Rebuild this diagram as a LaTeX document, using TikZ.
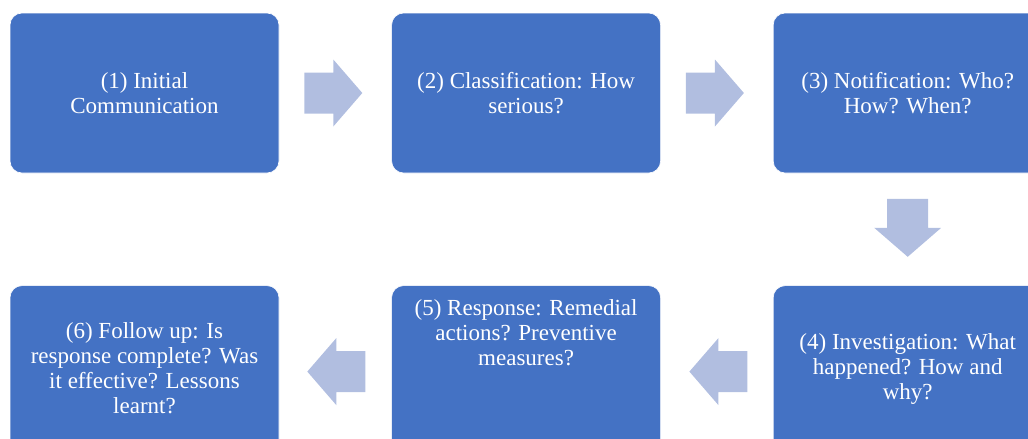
\documentclass[tikz,border=0pt]{standalone}
\usepackage{fontspec}
\setmainfont{Liberation Serif}
\usetikzlibrary{positioning,calc}

\definecolor{boxblue}{HTML}{4472C4}
\definecolor{arrowblue}{HTML}{B1BEE0}

\tikzset{
  stage/.style={rectangle,rounded corners=12pt,fill=boxblue,draw=white,
    line width=0.6pt,minimum width=269pt,minimum height=160pt,
    text=white,align=center,inner sep=0pt,
    font=\fontsize{23}{25}\selectfont},
  lowstage/.style={stage,minimum height=166pt},
  stagetext/.style={text=white,align=center,inner sep=0pt,
    font=\fontsize{23}{25}\selectfont},
  blockarrow/.pic={
    \fill[arrowblue] (-29,-20.5) -- (0,-20.5) -- (0,-33.5) -- (29,0)
      -- (0,33.5) -- (0,20.5) -- (-29,20.5) -- cycle;
  }
}

\begin{document}
\begin{tikzpicture}[x=1pt,y=1pt,node distance=112pt]
  % Display coordinates: X = pixel x, Y = -pixel y.
  \useasboundingbox (0,0) rectangle (1028,-439);

  \begin{scope}
    \clip (0,0) rectangle (1028,-439);

    % Top row.
    \node[stage] (b1) at (144.5,-93) {(1) Initial\\Communication};
    \node[stage,right=of b1] (b2) {(2) Classification: How\\serious?};
    \node[stage,right=of b2] (b3) {(3) Notification: Who?\\How? When?};

    % Bottom row, right to left.
    \node[lowstage,below=of b3] (b4) {(4) Investigation: What\\happened? How and\\why?};
    \node[lowstage,left=of b4] (b5) {};
    \node[stagetext,below=14pt of b5.north] (t5)
      {(5) Response: Remedial\\actions? Preventive\\measures?};
    \node[lowstage,left=of b5] (b6)
      {(6) Follow up: Is\\response complete? Was\\it effective? Lessons\\learnt?};
  \end{scope}

  % Block arrows between stages.
  \pic at ($(b1.east)!0.5!(b2.west)+(-2,0)$) {blockarrow};
  \pic at ($(b2.east)!0.5!(b3.west)+(-2,0)$) {blockarrow};
  \pic[rotate=-90] at ($(b3.south)!0.5!(b4.north)+(0,1.5)$) {blockarrow};
  \pic[rotate=180] at ($(b5.east)!0.5!(b4.west)+(1.5,-3)$) {blockarrow};
  \pic[rotate=180] at ($(b6.east)!0.5!(b5.west)+(1,-3)$) {blockarrow};
\end{tikzpicture}
\end{document}
